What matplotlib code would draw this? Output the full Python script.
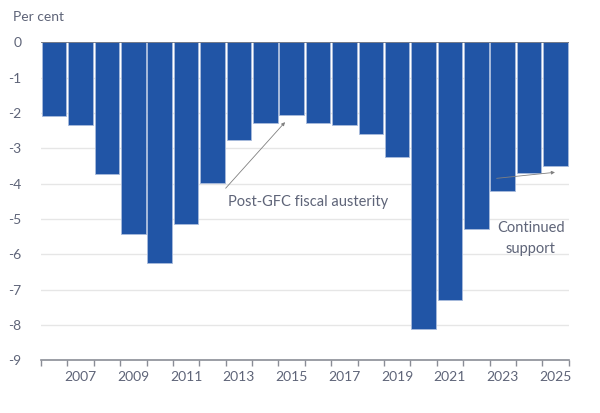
import matplotlib
matplotlib.use('Agg')
import matplotlib.pyplot as plt
import numpy as np

# budget balance, per cent of GDP
years = list(range(2006, 2026))
balance = [-2.1, -2.34, -3.74, -5.42, -6.25, -5.15, -3.98, -2.77, -2.28, -2.06,
           -2.29, -2.34, -2.6, -3.25, -8.1, -7.3, -5.27, -4.2, -3.7, -3.5]
yticks = [0, -1, -2, -3, -4, -5, -6, -7, -8, -9]
xlabels = ['2007', '2009', '2011', '2013', '2015', '2017', '2019', '2021', '2023', '2025']

plt.rcParams['font.family'] = ['Lato', 'DejaVu Sans']
txt = '#5e6478'
bar_col = '#2155a6'

fig = plt.figure(figsize=(6, 4.13), dpi=100)
ax = fig.add_axes([0.0683, 0.1276, 0.8795, 0.77])

x = np.arange(len(years))
ax.bar(x, balance, width=0.93, color=bar_col, edgecolor='#a9bbdc', linewidth=0.6, zorder=3)

ax.set_xlim(-0.5, len(years) - 0.5)
ax.set_ylim(-9, 0)

# grid
for v in yticks:
    if v == 0 or v == -9:
        continue
    ax.axhline(v, color='#e6e6e6', linewidth=1, zorder=1)
ax.axhline(0, color='#6b6f7a', linewidth=1.2, zorder=4)

ax.set_yticks(yticks)
ax.set_yticklabels([str(v) for v in yticks])
ax.tick_params(axis='y', length=0, pad=14, labelsize=10, labelcolor=txt)

# category ticks on boundaries, labels on odd years
ax.set_xticks(np.arange(-0.5, len(years), 1))
ax.set_xticklabels([])
ax.tick_params(axis='x', length=4, color='#8a8d96', width=1, direction='out')
lab_pos = [years.index(int(l)) for l in xlabels]
ax.set_xticks(lab_pos, minor=True)
ax.set_xticklabels(xlabels, minor=True)
ax.tick_params(axis='x', which='minor', length=0, pad=8, labelsize=10, labelcolor=txt)

for s in ['top', 'right', 'left']:
    ax.spines[s].set_visible(False)
ax.spines['bottom'].set_color('#8a8d96')
ax.spines['bottom'].set_linewidth(1.2)

fig.text(13 / 600, 1 - 17 / 413, 'Per cent', fontsize=10, color=txt, va='center', ha='left')

# annotations
arrow = dict(arrowstyle='-|>', color='#808080', lw=0.6, mutation_scale=5,
             shrinkA=0, shrinkB=0)
ax.annotate('', xy=(8.75, -2.26), xytext=(6.5, -4.13), arrowprops=arrow,
            annotation_clip=False, zorder=5)
ax.text(6.59, -4.52, 'Post-GFC fiscal austerity', fontsize=10.5, color=txt,
        ha='left', va='center', zorder=5)

ax.annotate('', xy=(18.98, -3.68), xytext=(16.77, -3.85), arrowprops=arrow,
            annotation_clip=False, zorder=5)
ax.text(18.06, -5.55, 'Continued\nsupport', fontsize=10.5, color=txt,
        ha='center', va='center', linespacing=1.7, zorder=5)

fig.savefig('out.png', dpi=100)
